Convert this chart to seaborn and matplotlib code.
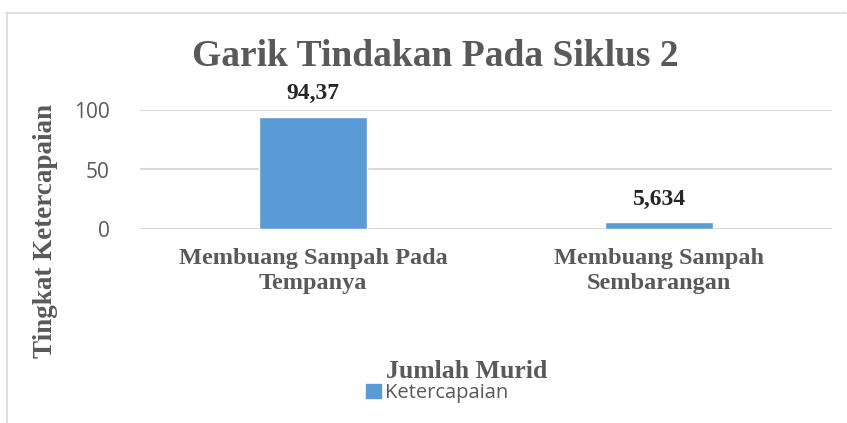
import matplotlib
matplotlib.use("Agg")
import matplotlib.pyplot as plt
import matplotlib.patches as mpatches
import seaborn as sns
import pandas as pd

categories = ["Membuang Sampah Pada\nTempanya", "Membuang Sampah\nSembarangan"]
values = [94.37, 5.634]
value_labels = ["94,37", "5,634"]
series_name = "Ketercapaian"

df = pd.DataFrame({"kategori": categories, "nilai": values})

sns.set_style("white")
plt.rcParams["font.family"] = "Liberation Serif"

fig = plt.figure(figsize=(8.47, 4.23), dpi=100)
ax = fig.add_axes([140 / 847, 1 - 229 / 423, 692 / 847, (229 - 110) / 423])

bar_color = "#5b9bd5"
sns.barplot(data=df, x="kategori", y="nilai", color=bar_color, width=0.31,
            saturation=1, ax=ax, zorder=3)

ax.set_ylim(0, 100)
ax.set_yticks([0, 50, 100])
ax.yaxis.grid(True, color="#d9d9d9", linewidth=1.5, zorder=0)
ax.set_axisbelow(True)
for s in ax.spines.values():
    s.set_visible(False)
ax.tick_params(axis="y", length=0, pad=22, labelsize=15, labelcolor="#595959")
for t in ax.get_yticklabels():
    t.set_family("Open Sans")
ax.tick_params(axis="x", length=0, pad=14, labelsize=17.5, labelcolor="#595959")
for t in ax.get_xticklabels():
    t.set_fontweight("bold")
    t.set_linespacing(1.25)
ax.set_xlabel("")
ax.set_ylabel("")
ax.set_xlim(-0.5, 1.5)

for i, (v, lab) in enumerate(zip(values, value_labels)):
    ax.annotate(lab, (i, v), xytext=(0, 9), textcoords="offset points",
                ha="center", va="bottom", fontsize=17, fontweight="bold",
                color="#262626")

fig.text(435 / 847, 1 - 56 / 423, "Garik Tindakan Pada Siklus 2", ha="center",
         va="center", fontsize=27, fontweight="bold", color="#595959")
fig.text(45 / 847, 1 - 231 / 423, "Tingkat Ketercapaian", rotation=90,
         ha="center", va="center", fontsize=19.5, fontweight="bold", color="#595959")
fig.text(467 / 847, 1 - 371 / 423, "Jumlah Murid", ha="center", va="center",
         fontsize=18.5, fontweight="bold", color="#595959")

handle = mpatches.Patch(color=bar_color, label=series_name)
leg = fig.legend(handles=[handle], loc="center", bbox_to_anchor=(437 / 847, 1 - 393 / 423),
                 frameon=False, handlelength=0.75, handleheight=0.75, handletextpad=0.2,
                 prop={"family": "Open Sans", "size": 14.5})
for t in leg.get_texts():
    t.set_color("#595959")

# chart border
fig.add_artist(plt.Line2D([6 / 847, 846 / 847], [1 - 13 / 423, 1 - 13 / 423],
                          color="#d9d9d9", linewidth=1.2))
fig.add_artist(plt.Line2D([7 / 847, 7 / 847], [1 - 13 / 423, 0],
                          color="#d9d9d9", linewidth=1.2))

fig.savefig("out.png", dpi=100, facecolor="white")
